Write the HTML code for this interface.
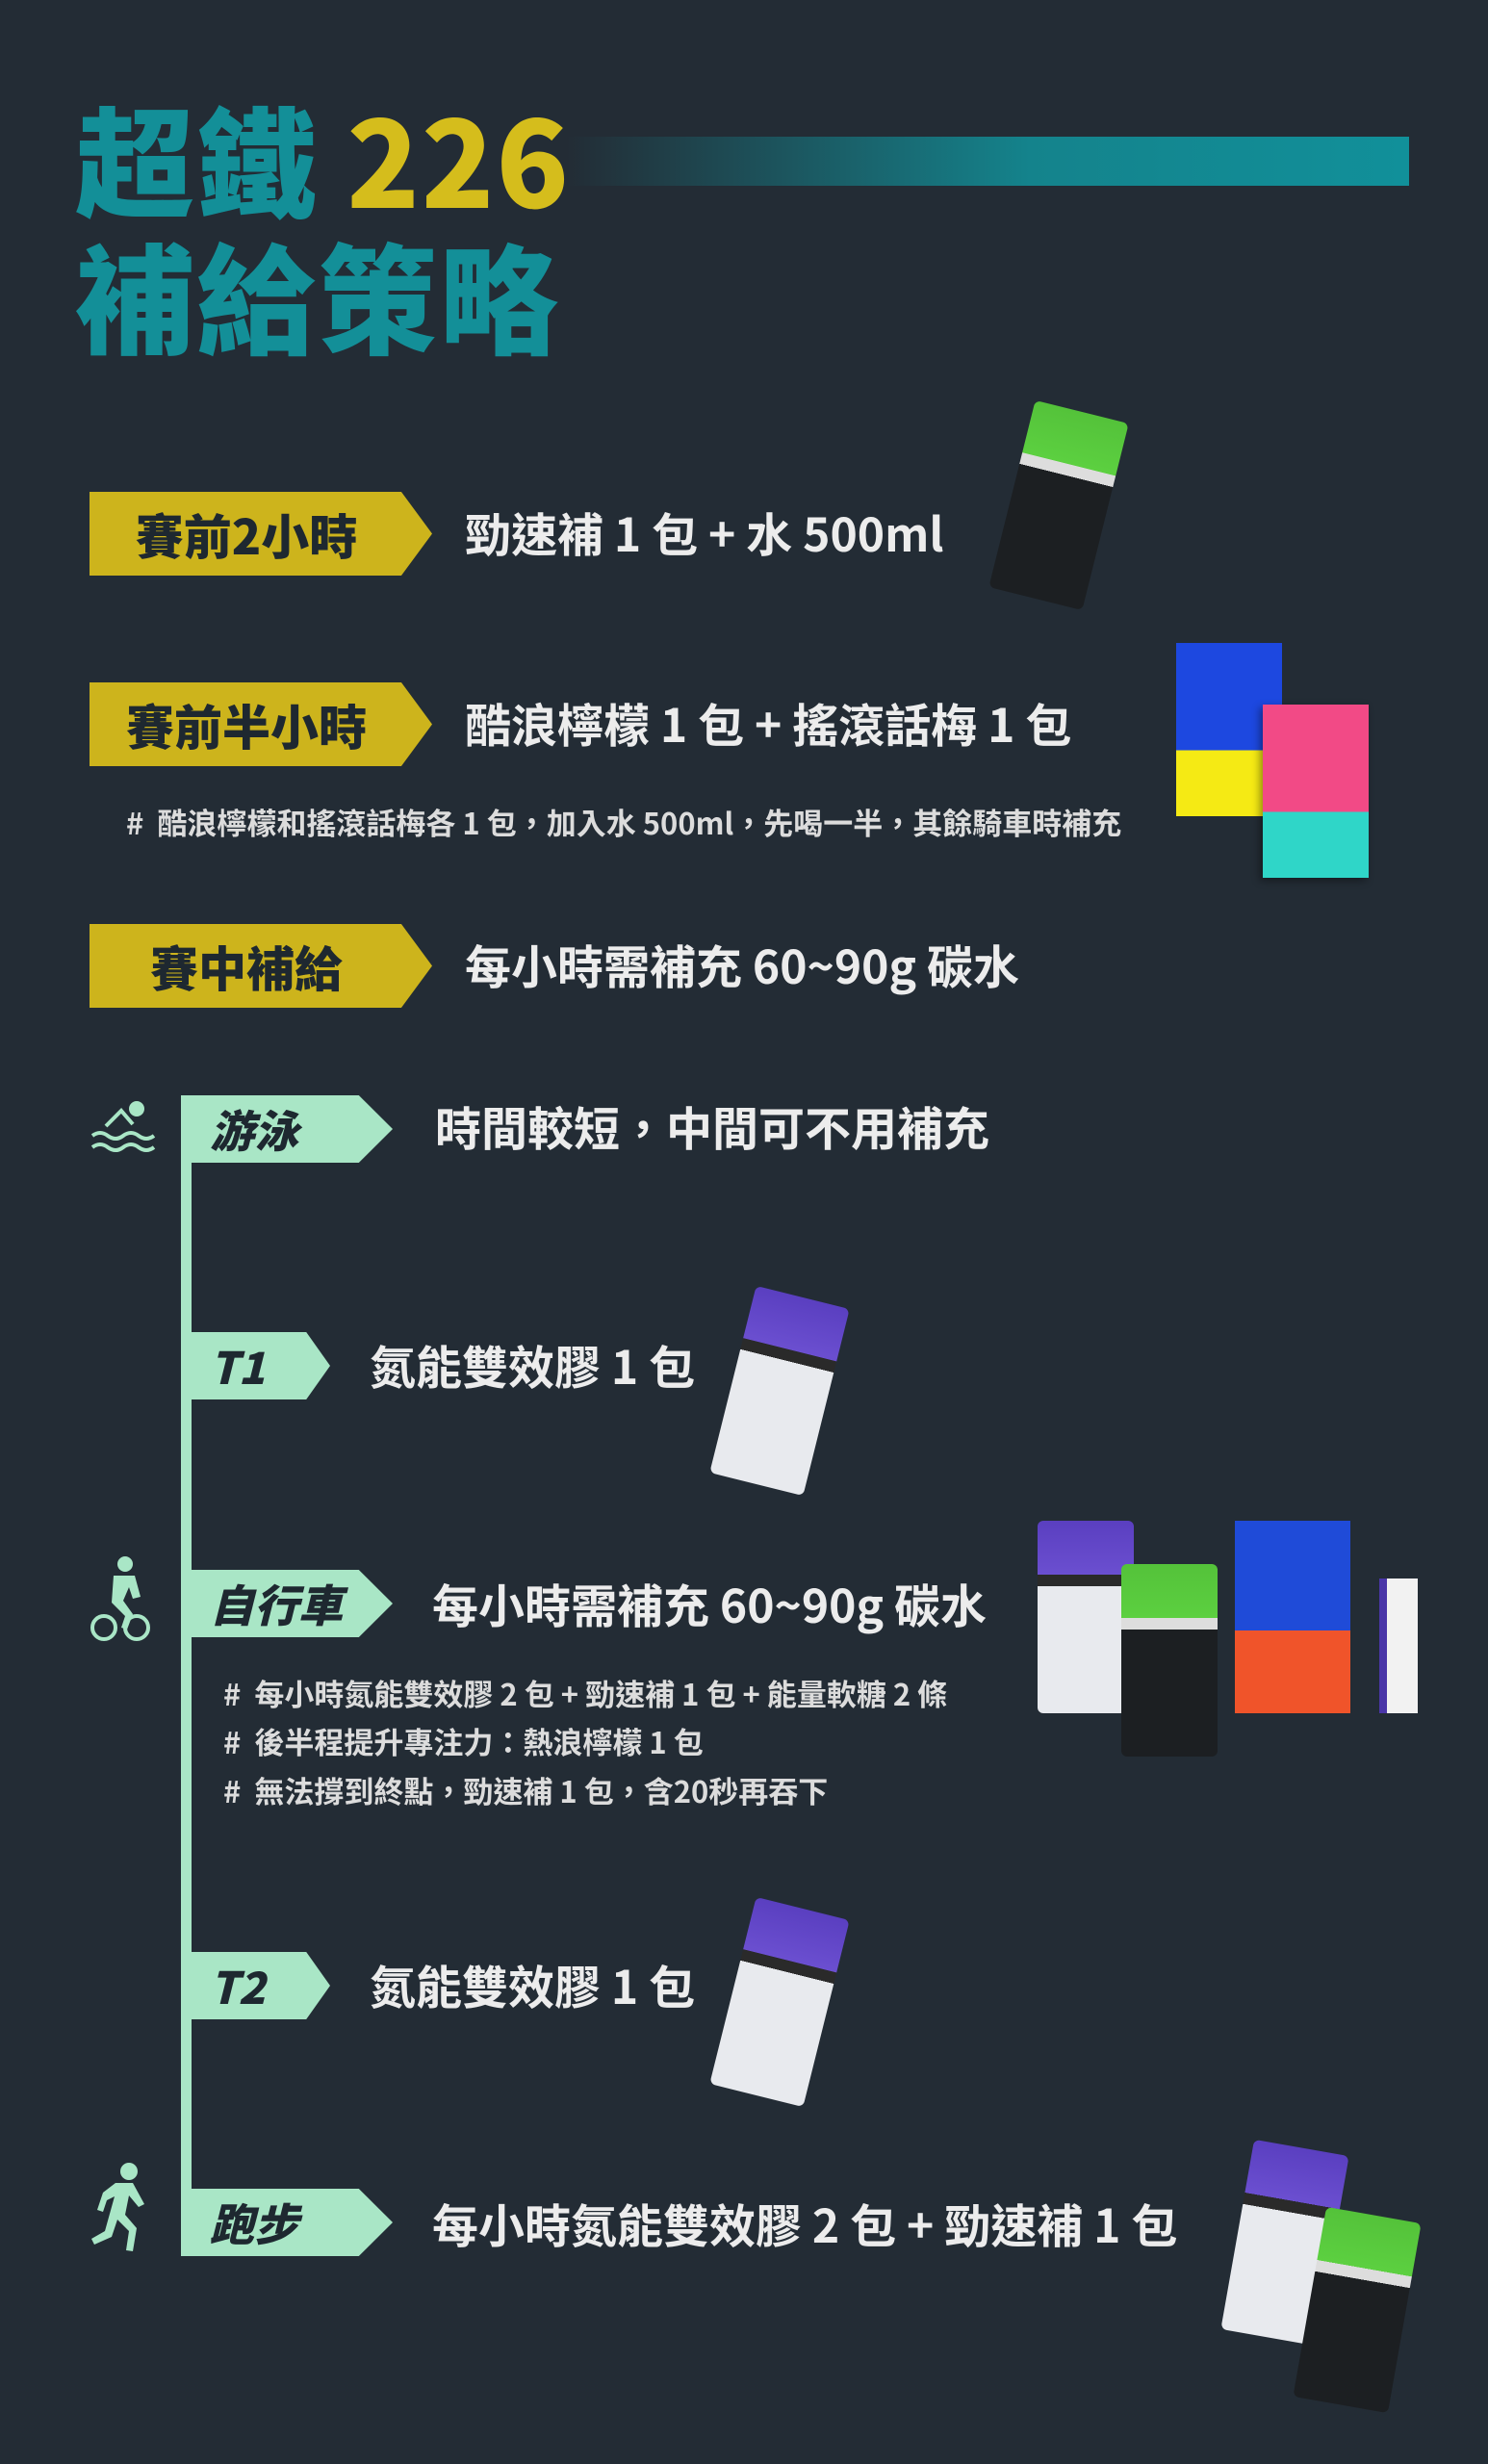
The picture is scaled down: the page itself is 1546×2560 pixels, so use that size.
<!DOCTYPE html>
<html><head><meta charset="utf-8">
<style>
*{margin:0;padding:0;box-sizing:border-box}
body{width:1546px;height:2560px;background:#232c35;position:relative;overflow:hidden;font-family:"Liberation Sans","Noto Sans CJK TC",sans-serif}
.a{position:absolute;white-space:nowrap}
.t1{font-family:"Noto Sans CJK TC",sans-serif;font-weight:900;font-size:124px;line-height:1;color:#138f98;letter-spacing:2px}
.y{background:#cdb41c;height:87px;clip-path:polygon(0 0,91% 0,100% 50%,91% 100%,0 100%);color:#1e2830;font-family:"Noto Sans CJK TC",sans-serif;font-weight:900;font-size:50px;display:flex;align-items:center;justify-content:center;padding-right:30px}
.m{background:#a9e6c6;height:70px;clip-path:polygon(0 0,84% 0,100% 50%,84% 100%,0 100%);color:#1e2830;font-family:"Noto Sans CJK TC",sans-serif;font-weight:900;font-style:italic;font-size:46px;display:flex;align-items:center;padding-left:30px}
.w{color:#ececec;font-family:"Noto Sans CJK TC",sans-serif;font-weight:700;font-size:48px;line-height:1}
.n{color:#dcdcdc;font-family:"Noto Sans CJK TC",sans-serif;font-weight:700;font-size:31px;line-height:1}
.gel{position:absolute;width:100px;height:200px;border-radius:6px;background:linear-gradient(#5a3fc0 0,#6b4fd0 28%,#2a2a2a 28%,#2a2a2a 34%,#e8eaee 34%)}
.gg{background:linear-gradient(#54c23a 0,#5cd040 28%,#ddd 28%,#ddd 34%,#1c1f22 34%)}
</style></head><body>
<div class="a t1" style="left:78px;top:100px">超鐵 <span style="color:#d5bd1c">226</span></div>
<div class="a" style="left:588px;top:142px;width:876px;height:51px;background:linear-gradient(90deg,#232c35,#14838c 55%,#11909a)"></div>
<div class="a t1" style="left:78px;top:242px">補給策略</div>

<div class="a y" style="left:93px;top:511px;width:356px">賽前2小時</div>
<div class="a w" style="left:483px;top:528px">勁速補 1 包 + 水 500ml</div>
<div class="a y" style="left:93px;top:709px;width:356px">賽前半小時</div>
<div class="a w" style="left:483px;top:726px">酷浪檸檬 1 包 + 搖滾話梅 1 包</div>
<div class="a n" style="left:131px;top:838px">#&nbsp; 酷浪檸檬和搖滾話梅各 1 包，加入水 500ml，先喝一半，其餘騎車時補充</div>
<div class="a y" style="left:93px;top:960px;width:356px">賽中補給</div>
<div class="a w" style="left:483px;top:977px">每小時需補充 60~90g 碳水</div>

<div class="a" style="left:188px;top:1138px;width:11px;height:1206px;background:#a9e6c6"></div>
<div class="a m" style="left:188px;top:1138px;width:220px">游泳</div>
<div class="a w" style="left:452px;top:1145px">時間較短，中間可不用補充</div>
<div class="a m" style="left:188px;top:1384px;width:155px">T1</div>
<div class="a w" style="left:384px;top:1393px">氮能雙效膠 1 包</div>
<div class="a m" style="left:188px;top:1631px;width:220px">自行車</div>
<div class="a w" style="left:449px;top:1641px">每小時需補充 60~90g 碳水</div>
<div class="a n" style="left:232px;top:1743px">#&nbsp; 每小時氮能雙效膠 2 包 + 勁速補 1 包 + 能量軟糖 2 條</div>
<div class="a n" style="left:232px;top:1793px">#&nbsp; 後半程提升專注力：熱浪檸檬 1 包</div>
<div class="a n" style="left:232px;top:1844px">#&nbsp; 無法撐到終點，勁速補 1 包，含20秒再吞下</div>
<div class="a m" style="left:188px;top:2028px;width:155px">T2</div>
<div class="a w" style="left:384px;top:2037px">氮能雙效膠 1 包</div>
<div class="a m" style="left:188px;top:2274px;width:220px">跑步</div>
<div class="a w" style="left:449px;top:2285px">每小時氮能雙效膠 2 包 + 勁速補 1 包</div>

<!-- icons -->
<svg class="a" style="left:92px;top:1140px" width="72" height="60" viewBox="0 0 72 60" fill="none" stroke="#a9e6c6" stroke-width="4"><circle cx="50" cy="12" r="6" fill="#a9e6c6"/><path d="M18 30 L34 14 L46 28" /><path d="M4 40q8-6 16 0t16 0t16 0t16 0M4 52q8-6 16 0t16 0t16 0t16 0"/></svg>
<svg class="a" style="left:94px;top:1615px" width="62" height="95" viewBox="0 0 62 95" fill="#a9e6c6"><circle cx="36" cy="10" r="8"/><path d="M24 22h22l6 22-8 2-4-12-6 14 10 14-6 16-6-2 4-12-14-14z"/><circle cx="14" cy="76" r="12" fill="none" stroke="#a9e6c6" stroke-width="4"/><circle cx="48" cy="76" r="12" fill="none" stroke="#a9e6c6" stroke-width="4"/></svg>
<svg class="a" style="left:94px;top:2246px" width="62" height="100" viewBox="0 0 62 100" fill="#a9e6c6"><circle cx="40" cy="10" r="9"/><path d="M26 22h18l12 22-6 3-10-12-4 20 12 14-4 24-7-1 3-20-12-12-6 18-18 8-3-6 14-8 10-36-8 4-4 12-6-2 6-18z"/></svg>

<!-- products -->
<div class="gel gg" style="left:1050px;top:425px;transform:rotate(14deg)"></div>
<div class="a" style="left:1222px;top:668px;width:110px;height:180px;background:linear-gradient(#1d48e0 0,#1d48e0 62%,#f5ea14 62%)"></div>
<div class="a" style="left:1312px;top:732px;width:110px;height:180px;background:linear-gradient(#f24a86 0,#f24a86 62%,#2fd6c8 62%);box-shadow:-3px 3px 8px rgba(0,0,0,.4)"></div>
<div class="gel" style="left:760px;top:1345px;transform:rotate(14deg)"></div>
<div class="gel" style="left:1078px;top:1580px"></div>
<div class="gel gg" style="left:1165px;top:1625px"></div>
<div class="a" style="left:1283px;top:1580px;width:120px;height:200px;background:linear-gradient(#1f4bd8 0,#1f4bd8 57%,#f0542a 57%)"></div>
<div class="a" style="left:1433px;top:1640px;width:40px;height:140px;background:#f2f2f2;border-left:8px solid #4a36a8"></div>
<div class="gel" style="left:760px;top:1980px;transform:rotate(14deg)"></div>
<div class="gel" style="left:1285px;top:2230px;transform:rotate(10deg)"></div>
<div class="gel gg" style="left:1360px;top:2300px;transform:rotate(10deg)"></div>
</body></html>
